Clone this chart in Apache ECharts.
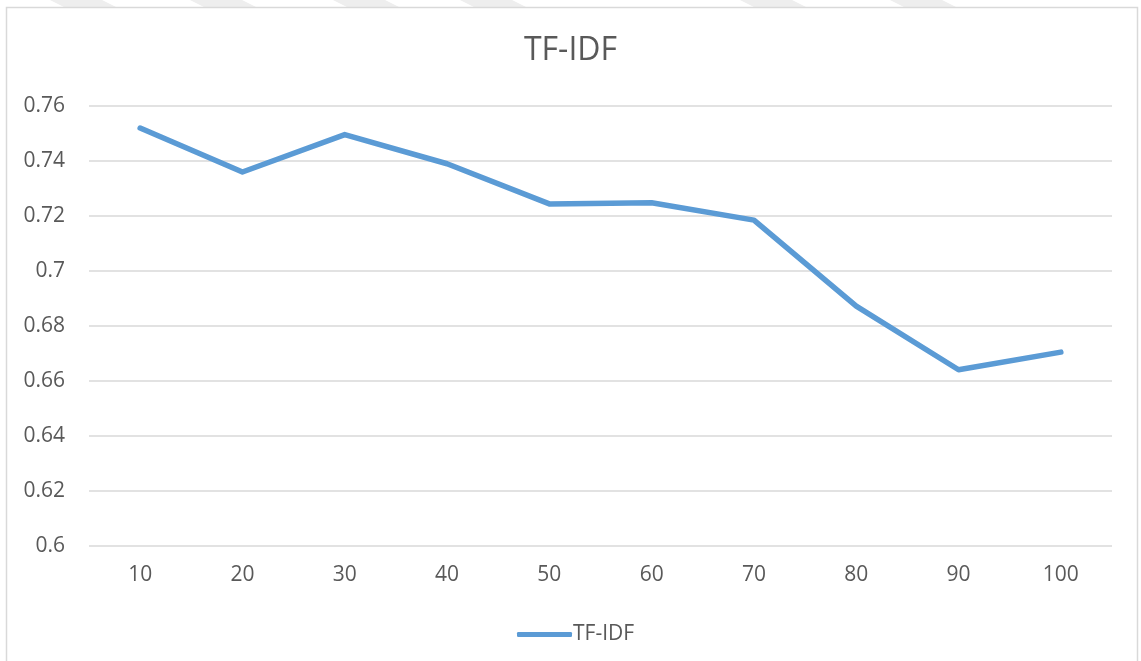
<!DOCTYPE html>
<html>
<head>
<meta charset="utf-8">
<title>TF-IDF</title>
<script src="https://cdn.jsdelivr.net/npm/echarts@6/dist/echarts.min.js"></script>
<style>
  html, body { margin: 0; padding: 0; background: #ffffff; }
  #chart { width: 1141px; height: 661px; }
</style>
</head>
<body>
<div id="chart"></div>
<script>
// Feature counts along the x axis
const categories = ['10', '20', '30', '40', '50', '60', '70', '80', '90', '100'];
// TF-IDF score for each feature count
const tfidfValues = [0.752, 0.736, 0.7496, 0.739, 0.7244, 0.7248, 0.7185, 0.6872, 0.6641, 0.6705];
// Value axis range
const yMin = 0.6;
const yMax = 0.76;
const yStep = 0.02;

const textColor = '#595959';
const gridColor = '#D9D9D9';
const lineColor = '#5B9BD5';
const fontFamily = '"Open Sans", "Noto Sans", sans-serif';

// Faint slanted stripes along the top edge of the page
const stripeStarts = [50, 190, 333, 460, 740, 890];
const stripes = stripeStarts.map(x => ({
  type: 'polygon',
  silent: true,
  z: -1,
  shape: { points: [[x, 0], [x + 52, 0], [x + 66, 7], [x + 14, 7]] },
  style: { fill: '#EEEEEE' }
}));

const chart = echarts.init(document.getElementById('chart'), null, { renderer: 'canvas' });

chart.setOption({
  animation: false,
  backgroundColor: '#ffffff',
  textStyle: { fontFamily: fontFamily },
  title: {
    text: 'TF-IDF',
    left: 'center',
    top: 30,
    textStyle: { color: textColor, fontSize: 32, fontWeight: 'normal', fontFamily: fontFamily }
  },
  graphic: [
    ...stripes,
    {
      type: 'rect',
      silent: true,
      z: -1,
      shape: { x: 6.5, y: 7.5, width: 1131, height: 670 },
      style: { fill: null, stroke: gridColor, lineWidth: 1.5 }
    }
  ],
  legend: {
    data: ['TF-IDF'],
    left: 512,
    top: 619,
    itemWidth: 55,
    itemHeight: 5,
    itemGap: 10,
    icon: 'roundRect',
    textStyle: { color: textColor, fontSize: 21, fontFamily: fontFamily, padding: [0, 0, 0, -4] }
  },
  grid: {
    left: 89,
    right: 29,
    top: 106,
    bottom: 115,
    containLabel: false
  },
  xAxis: {
    type: 'category',
    data: categories,
    boundaryGap: true,
    axisLine: { show: false },
    axisTick: { show: false },
    axisLabel: { color: textColor, fontSize: 21, margin: 19, fontFamily: fontFamily },
    splitLine: { show: false }
  },
  yAxis: {
    type: 'value',
    min: yMin,
    max: yMax,
    interval: yStep,
    axisLine: { show: false },
    axisTick: { show: false },
    axisLabel: {
      color: textColor,
      fontSize: 21,
      margin: 24,
      fontFamily: fontFamily,
      formatter: v => String(parseFloat(v.toFixed(2)))
    },
    splitLine: { lineStyle: { color: gridColor, width: 1.5 } }
  },
  series: [
    {
      name: 'TF-IDF',
      type: 'line',
      data: tfidfValues,
      showSymbol: false,
      symbol: 'none',
      smooth: false,
      lineStyle: { color: lineColor, width: 5.5, cap: 'round', join: 'round' },
      itemStyle: { color: lineColor }
    }
  ]
});
</script>
</body>
</html>
